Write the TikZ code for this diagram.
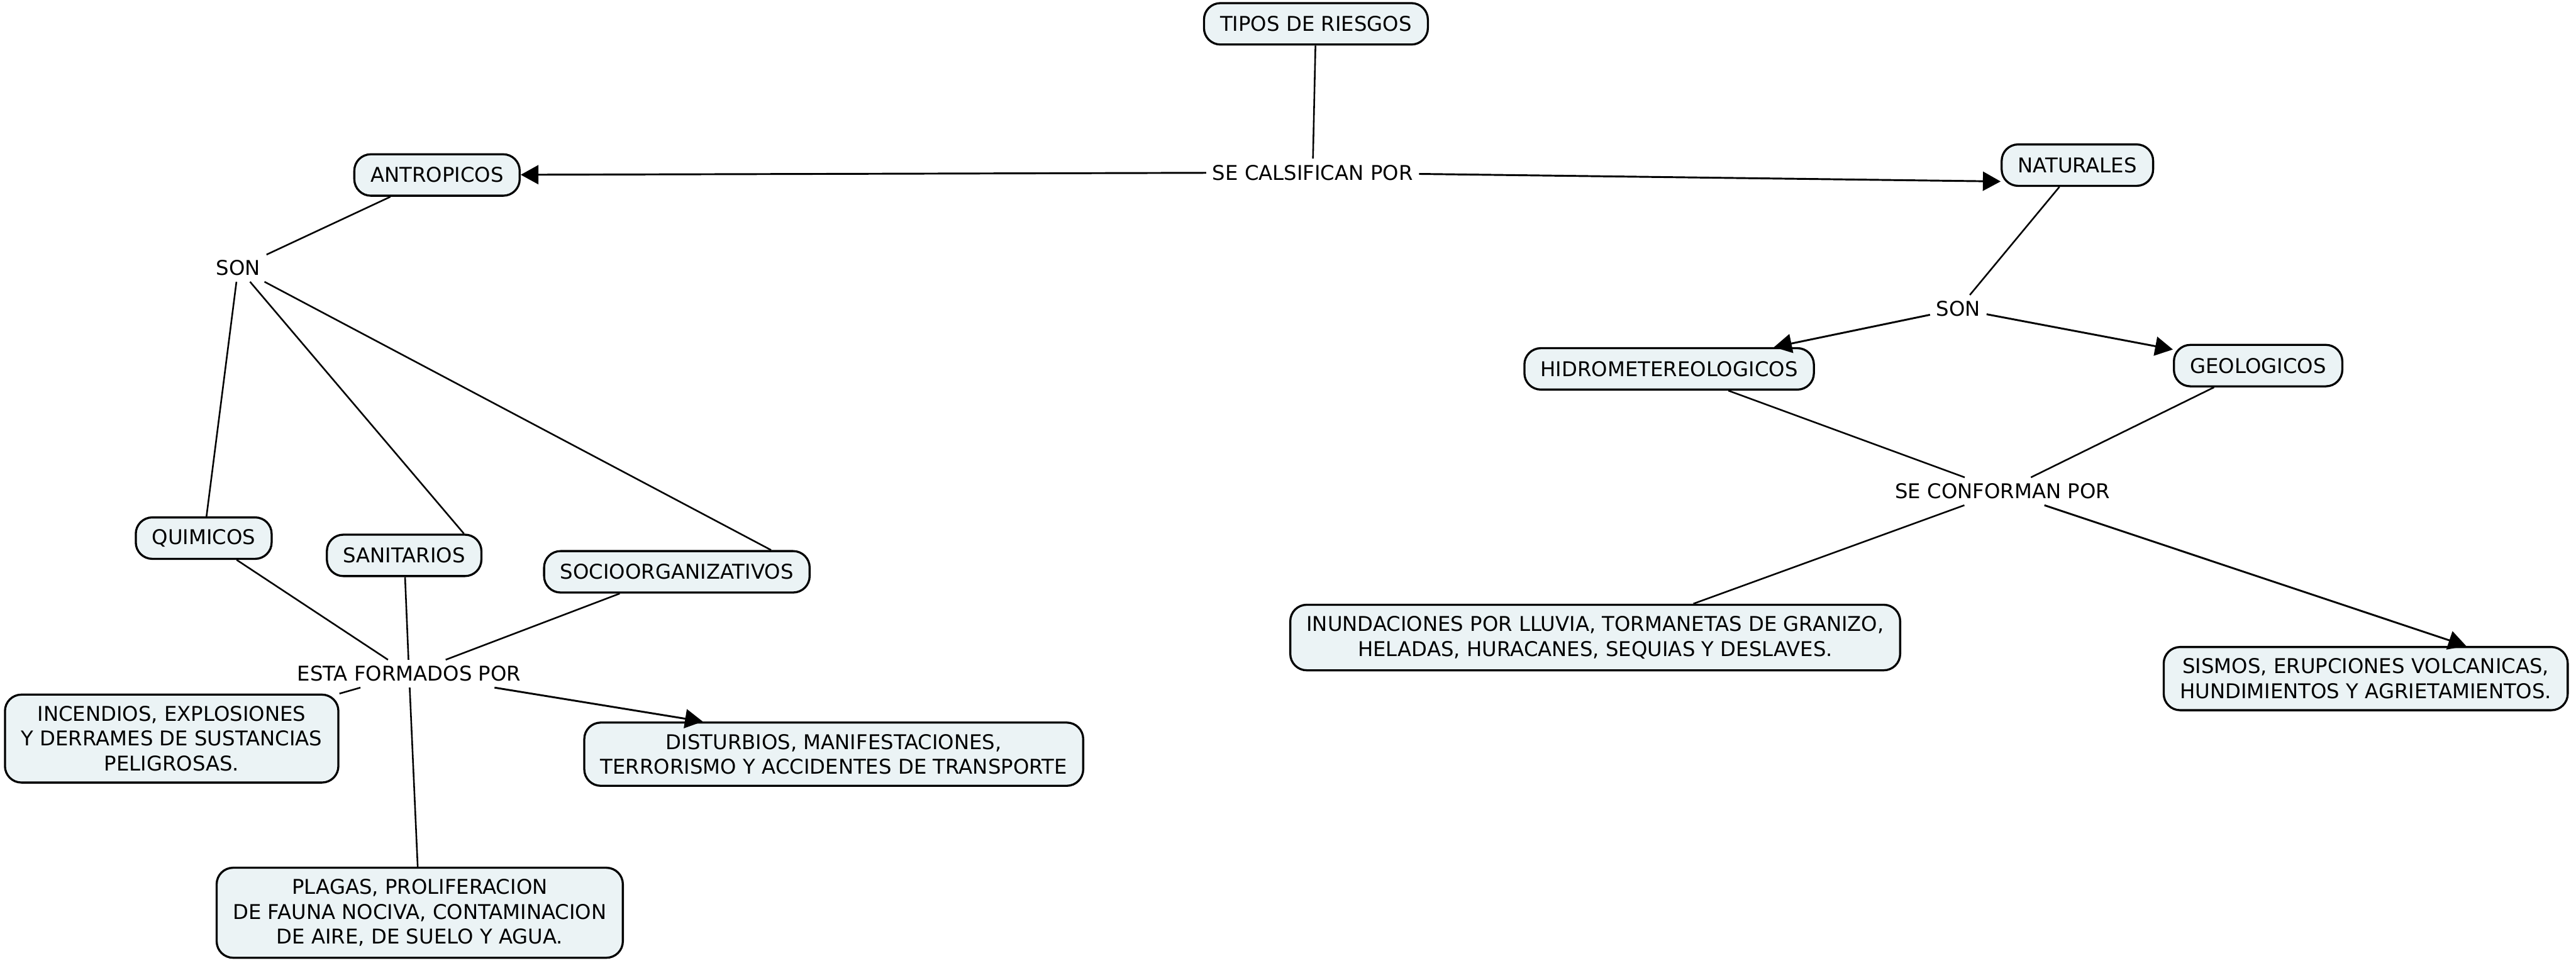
\documentclass[tikz,border=0pt]{standalone}
\usepackage{fontspec}
\setmainfont{DejaVu Sans}
\usepackage{tikz}
\usetikzlibrary{arrows.meta}

\definecolor{boxfill}{HTML}{EBF3F5}

\begin{document}
\begin{tikzpicture}[
  x=0.025cm, y=-0.025cm,
  box/.style={draw,line width=0.9pt,rounded corners=2.5mm,fill=boxfill,align=center,
    inner xsep=7pt,inner ysep=5pt,minimum height=6.3mm,font=\fontsize{8.8}{10.7}\selectfont},
  phrase/.style={align=center,inner sep=2.5pt,font=\fontsize{8.8}{10.7}\selectfont},
  ln/.style={line width=0.7pt},
  arr/.style={-{Triangle[length=2.7mm,width=2.9mm]},line width=0.8pt}
]
\useasboundingbox (0,0) rectangle (1568,586);

% top
\node[box] (tipos) at (801,14.5) {TIPOS DE RIESGOS};
\node[phrase] (calsif) at (799,105) {SE CALSIFICAN POR};
\node[box] (antrop) at (266,106.5) {ANTROPICOS};
\node[box] (natur) at (1264.5,100.5) {NATURALES};

% left branch
\node[phrase] (sonA) at (145,163) {SON};
\node[box] (quim) at (124,327.5) {QUIMICOS};
\node[box] (sanit) at (246,338) {SANITARIOS};
\node[box] (socio) at (412,348) {SOCIOORGANIZATIVOS};
\node[phrase] (esta) at (249,410) {ESTA FORMADOS POR};
\node[box] (incend) at (104.5,449.5) {INCENDIOS, EXPLOSIONES\\Y DERRAMES DE SUSTANCIAS\\PELIGROSAS.};
\node[box] (disturb) at (507.5,459) {DISTURBIOS, MANIFESTACIONES,\\TERRORISMO Y ACCIDENTES DE TRANSPORTE};
\node[box] (plagas) at (255.5,555.5) {PLAGAS, PROLIFERACION\\DE FAUNA NOCIVA, CONTAMINACION\\DE AIRE, DE SUELO Y AGUA.};

% right branch
\node[phrase] (sonN) at (1192,188) {SON};
\node[box] (hidro) at (1016,224.5) {HIDROMETEREOLOGICOS};
\node[box] (geo) at (1374.5,222.5) {GEOLOGICOS};
\node[phrase] (conf) at (1219,299) {SE CONFORMAN POR};
\node[box] (inund) at (971,388) {INUNDACIONES POR LLUVIA, TORMANETAS DE GRANIZO,\\HELADAS, HURACANES, SEQUIAS Y DESLAVES.};
\node[box] (sismos) at (1440,413) {SISMOS, ERUPCIONES VOLCANICAS,\\HUNDIMIENTOS Y AGRIETAMIENTOS.};

\draw[ln] (tipos) -- (calsif);
\draw[arr] (calsif) -- (antrop);
\draw[arr] (calsif) -- (natur.192);

\draw[ln] (antrop) -- (sonA);
\draw[ln] (sonA) -- (quim);
\draw[ln] (sonA) -- (sanit.20);
\draw[ln] (sonA) -- (socio.13);
\draw[ln] (quim) -- (esta);
\draw[ln] (sanit) -- (esta);
\draw[ln] (socio) -- (esta);
\draw[ln] (esta) -- (incend.15);
\draw[ln] (esta) -- (plagas);
\draw[arr] (esta) -- (disturb.166);

\draw[ln] (natur) -- (sonN);
\draw[arr] (sonN) -- (hidro);
\draw[arr] (sonN) -- (geo);
\draw[ln] (hidro) -- (conf);
\draw[ln] (geo) -- (conf);
\draw[ln] (conf) -- (inund.19);
\draw[arr] (conf) -- (sismos.18);
\end{tikzpicture}
\end{document}
